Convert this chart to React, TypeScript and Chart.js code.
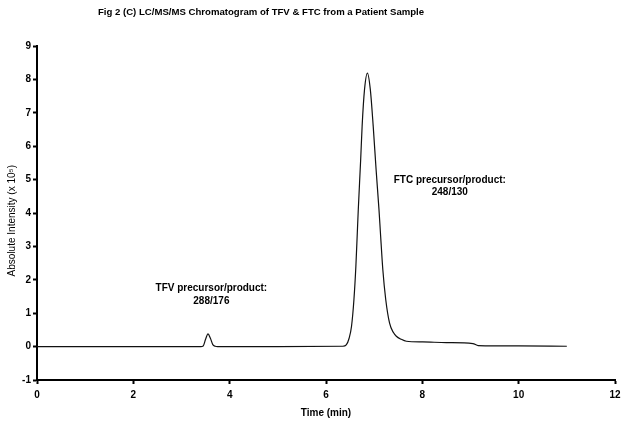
import React, { useEffect, useRef } from "react";
import { Chart, registerables } from "chart.js";

Chart.register(...registerables);

const TITLE = "Fig 2 (C) LC/MS/MS Chromatogram of TFV & FTC from a Patient Sample";
const X_TITLE = "Time (min)";
const Y_TITLE = "Absolute Intensity (x 10\u2075)";

const timeMin = [
  0, 3.4, 3.45, 3.5, 3.55, 3.6, 3.65, 3.7, 3.75, 5.0, 6.35, 6.42, 6.48, 6.53, 6.58, 6.62, 6.65,
  6.67, 6.72, 6.75, 6.8, 6.86, 6.92, 6.98, 7.04, 7.1, 7.13, 7.18, 7.24, 7.32, 7.4, 7.46, 7.56,
  7.67, 8.01, 8.5, 9.05, 9.16, 10.0, 11.0,
];
const intensity = [
  0, 0, 0.02, 0.22, 0.38, 0.25, 0.06, 0.01, 0, 0, 0.01, 0.05, 0.25, 0.61, 1.41, 2.4, 3.41,
  4.1, 5.6, 6.6, 7.7, 8.19, 7.7, 6.6, 5.3, 4.1, 3.41, 2.3, 1.41, 0.7, 0.42, 0.31, 0.22,
  0.16, 0.14, 0.12, 0.09, 0.03, 0.02, 0.01,
];

const annotations = [
  { t: 3.62, lines: ["TFV precursor/product:", "288/176"], v: [1.75, 1.36] },
  { t: 8.57, lines: ["FTC precursor/product:", "248/130"], v: [4.97, 4.61] },
];

const FONT = "'Liberation Sans', Arial, sans-serif";

export default function App() {
  const ref = useRef<HTMLCanvasElement | null>(null);
  useEffect(() => {
    if (!ref.current) return;
    const textPlugin = {
      id: "texts",
      afterDraw(chart: any) {
        const ctx = chart.ctx;
        const xs = chart.scales.x;
        const ys = chart.scales.y;
        ctx.save();
        ctx.fillStyle = "#000";
        ctx.textAlign = "center";
        ctx.textBaseline = "middle";
        ctx.font = `bold 9.6px ${FONT}`;
        ctx.fillText(TITLE, 261, 12);
        ctx.font = `bold 10px ${FONT}`;
        for (const a of annotations) {
          a.lines.forEach((ln, i) => {
            ctx.fillText(ln, xs.getPixelForValue(a.t), ys.getPixelForValue(a.v[i]));
          });
        }
        ctx.translate(12, ys.getPixelForValue(3.77));
        ctx.rotate(-Math.PI / 2);
        ctx.font = `10px ${FONT}`;
        ctx.fillText(Y_TITLE, 0, 0);
        ctx.restore();
      },
    };
    const chart = new Chart(ref.current, {
      type: "line",
      data: {
        datasets: [
          {
            data: timeMin.map((t, i) => ({ x: t, y: intensity[i] })),
            borderColor: "#111",
            borderWidth: 1.2,
            pointRadius: 0,
            cubicInterpolationMode: "monotone",
            fill: false,
          },
        ],
      },
      options: {
        animation: false,
        responsive: false,
        maintainAspectRatio: false,
        layout: { padding: { top: 46, right: 13, left: 0, bottom: 0 } },
        plugins: { legend: { display: false }, tooltip: { enabled: false }, title: { display: false } },
        scales: {
          x: {
            type: "linear",
            min: 0,
            max: 12,
            border: { display: true, color: "#000", width: 2 },
            grid: { display: true, drawOnChartArea: false, drawTicks: true, tickLength: 4, tickColor: "#000", tickWidth: 2 },
            ticks: { stepSize: 2, color: "#000", padding: 5, maxRotation: 0, font: { family: FONT, size: 10, weight: "bold" } },
            title: { display: true, text: X_TITLE, color: "#000", padding: { top: 4, bottom: 8 }, font: { family: FONT, size: 10, weight: "bold" } },
            afterFit: (s: any) => { s.height = 47; },
          },
          y: {
            type: "linear",
            min: -1,
            max: 9,
            border: { display: true, color: "#000", width: 2 },
            grid: { display: true, drawOnChartArea: false, drawTicks: true, tickLength: 4, tickColor: "#000", tickWidth: 2 },
            ticks: { stepSize: 1, color: "#000", padding: 2, font: { family: FONT, size: 10, weight: "bold" } },
            title: { display: false },
            afterFit: (s: any) => { s.width = 37; },
          },
        },
      },
      plugins: [textPlugin],
    } as any);
    return () => chart.destroy();
  }, []);
  return (
    <div style={{ position: "fixed", left: 0, top: 0, width: 628, height: 427, background: "#fff" }}>
      <canvas ref={ref} width={628} height={427} style={{ width: 628, height: 427 }} />
    </div>
  );
}
